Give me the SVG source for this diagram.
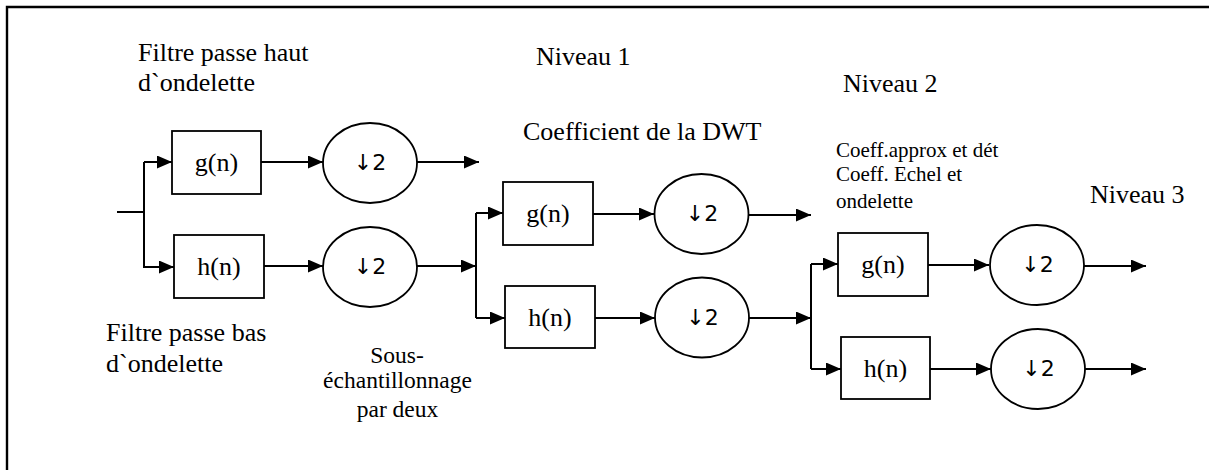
<svg xmlns="http://www.w3.org/2000/svg" width="1209" height="470" viewBox="0 0 1209 470">
  <style>
    .frame { fill: none; stroke: #000; stroke-width: 2.4; }
    .box { fill: #fff; stroke: #000; stroke-width: 1.8; }
    .dec { fill: #fff; stroke: #000; stroke-width: 1.8; }
    .wire { fill: none; stroke: #000; stroke-width: 2; }
    .arrow { fill: none; stroke: #000; stroke-width: 2; marker-end: url(#head); }
    text { fill: #000; }
    .lbl { font-size: 26px; }
    .small { font-size: 23.5px; }
    .tiny { font-size: 21px; }
    .fn { font-size: 26px; text-anchor: middle; }
    .down { font-size: 22px; text-anchor: middle; }
  </style>
  <defs>
    <marker id="head" markerUnits="userSpaceOnUse" markerWidth="15" markerHeight="13" refX="15" refY="6.5" orient="auto">
      <path d="M0,0 L15,6.5 L0,13 Z" fill="#000"/>
    </marker>
  </defs>

  <rect width="1209" height="470" fill="#fff"/>
  <!-- page frame: top and left edges only -->
  <path class="frame" d="M7,470 V7 H1209"/>

  <!-- connectors -->
  <g id="connectors">
    <!-- level 1 -->
    <path class="wire" d="M117,212 H144 M144,162 V268"/>
    <path class="arrow" d="M144,162 H172"/>
    <path class="arrow" d="M144,267 H174"/>
    <path class="arrow" d="M261,162 H323"/>
    <path class="arrow" d="M264,266 H323"/>
    <path class="arrow" d="M417,162 H479"/>
    <path class="arrow" d="M417,266 H476"/>
    <!-- level 2 -->
    <path class="wire" d="M476,213 V318"/>
    <path class="arrow" d="M476,213 H503"/>
    <path class="arrow" d="M476,318 H505"/>
    <path class="arrow" d="M593,214 H654"/>
    <path class="arrow" d="M595,318 H655"/>
    <path class="arrow" d="M749,215 H811"/>
    <path class="arrow" d="M749,318 H811"/>
    <!-- level 3 -->
    <path class="wire" d="M811,264 V369"/>
    <path class="arrow" d="M811,264 H838"/>
    <path class="arrow" d="M811,369 H841"/>
    <path class="arrow" d="M928,265 H989"/>
    <path class="arrow" d="M930,369 H991"/>
    <path class="arrow" d="M1084,266 H1146"/>
    <path class="arrow" d="M1085,369 H1146"/>
  </g>

  <g font-family="'Liberation Serif', 'Times New Roman', Times, serif">
    <!-- level 1 filters -->
    <g id="g1"><rect class="box" x="172" y="131" width="89" height="63"/><text class="fn" x="216.5" y="171">g(n)</text></g>
    <g id="h1"><rect class="box" x="174" y="235" width="90" height="63"/><text class="fn" x="219" y="275">h(n)</text></g>
    <!-- level 2 filters -->
    <g id="g2"><rect class="box" x="503" y="182" width="90" height="63"/><text class="fn" x="548" y="222">g(n)</text></g>
    <g id="h2"><rect class="box" x="505" y="286" width="90" height="62"/><text class="fn" x="550" y="326">h(n)</text></g>
    <!-- level 3 filters -->
    <g id="g3"><rect class="box" x="838" y="233" width="90" height="63"/><text class="fn" x="883" y="273">g(n)</text></g>
    <g id="h3"><rect class="box" x="841" y="337" width="89" height="62"/><text class="fn" x="885.5" y="377">h(n)</text></g>
  </g>

  <!-- downsamplers -->
  <g font-family="'DejaVu Sans', 'Liberation Sans', sans-serif">
    <g id="d1a"><ellipse class="dec" cx="370" cy="163" rx="47" ry="40"/><text class="down" x="370" y="170">↓2</text></g>
    <g id="d1b"><ellipse class="dec" cx="370" cy="267" rx="47" ry="40"/><text class="down" x="370" y="274">↓2</text></g>
    <g id="d2a"><ellipse class="dec" cx="701.5" cy="214" rx="47" ry="40"/><text class="down" x="702" y="221">↓2</text></g>
    <g id="d2b"><ellipse class="dec" cx="702" cy="317.5" rx="47" ry="40"/><text class="down" x="702.5" y="324.5">↓2</text></g>
    <g id="d3a"><ellipse class="dec" cx="1037" cy="265" rx="47" ry="40"/><text class="down" x="1037.5" y="272">↓2</text></g>
    <g id="d3b"><ellipse class="dec" cx="1038" cy="369" rx="47" ry="40"/><text class="down" x="1038.5" y="376">↓2</text></g>
  </g>

  <!-- annotations -->
  <g id="labels" font-family="'Liberation Serif', 'Times New Roman', Times, serif">
    <text class="lbl" x="138" y="61">Filtre passe haut</text>
    <text class="lbl" x="138" y="91">d`ondelette</text>
    <text class="lbl" x="106" y="341">Filtre passe bas</text>
    <text class="lbl" x="106" y="372">d`ondelette</text>
    <text class="small" x="397" y="363" text-anchor="middle">Sous-</text>
    <text class="small" x="397.5" y="388" text-anchor="middle">échantillonnage</text>
    <text class="small" x="397.5" y="417" text-anchor="middle">par deux</text>
    <text class="lbl" x="536" y="65">Niveau 1</text>
    <text class="lbl" x="523" y="140">Coefficient de la DWT</text>
    <text class="lbl" x="843" y="92">Niveau 2</text>
    <text class="tiny" x="836" y="157">Coeff.approx et dét</text>
    <text class="tiny" x="836" y="181">Coeff. Echel et</text>
    <text class="tiny" x="836" y="208">ondelette</text>
    <text class="lbl" x="1090" y="203">Niveau 3</text>
  </g>
</svg>
